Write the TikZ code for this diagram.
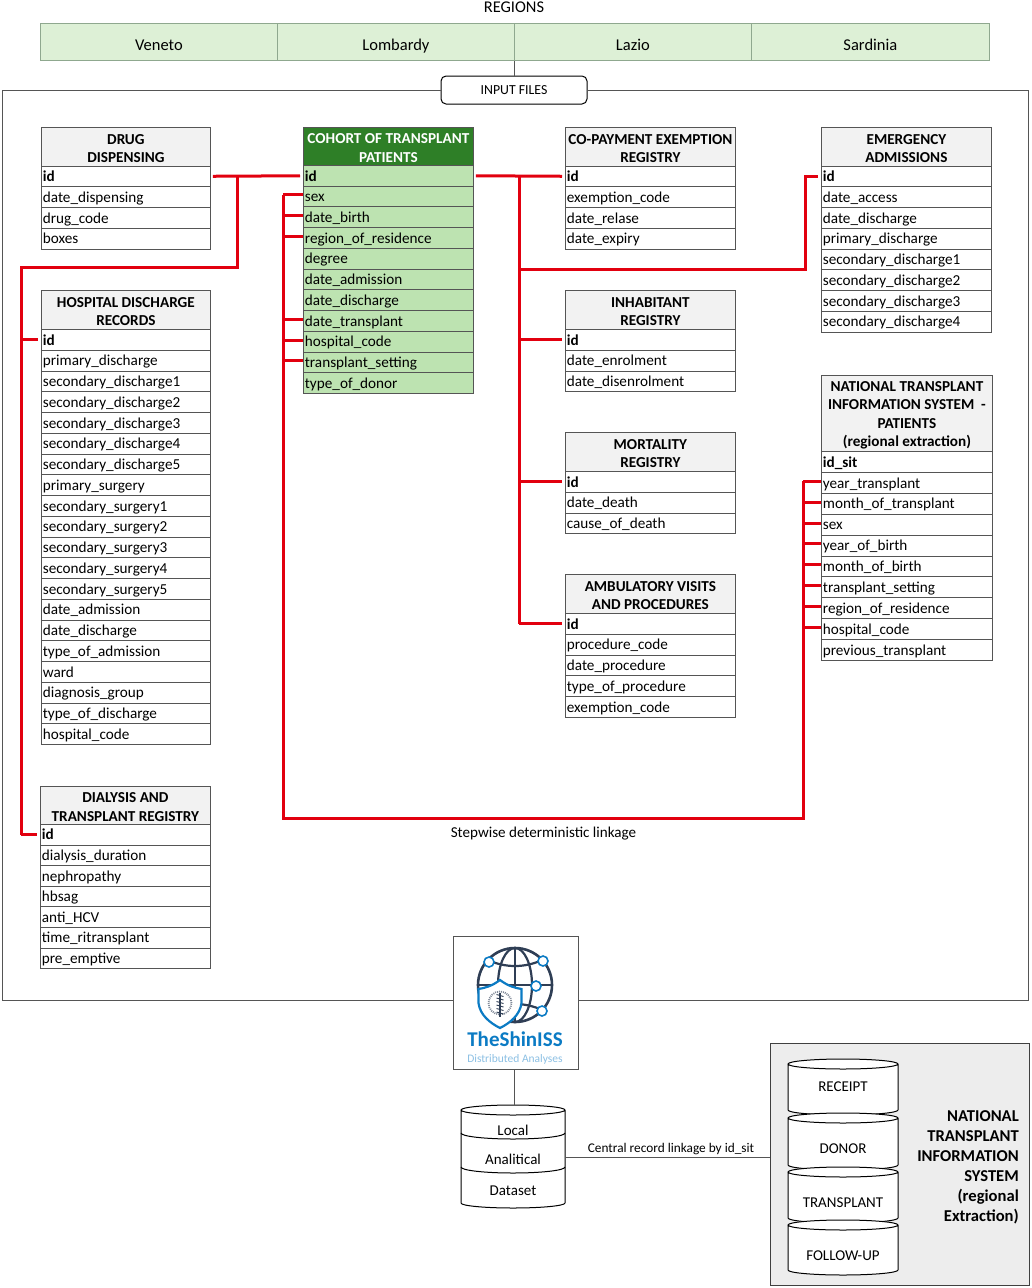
\documentclass[tikz,border=0pt]{standalone}
\usepackage{fontspec}
\setmainfont{Carlito}
\usetikzlibrary{calc}
\definecolor{gridc}{HTML}{555555}
\definecolor{linkred}{HTML}{E2000F}
\definecolor{headgrey}{HTML}{F2F2F2}
\definecolor{cohorthead}{HTML}{2E7F27}
\definecolor{cohortrow}{HTML}{BDE3B1}
\definecolor{regionfill}{HTML}{DDF0D6}
\definecolor{regionline}{HTML}{8FA88F}
\definecolor{panelgrey}{HTML}{EDEDED}
\definecolor{globec}{HTML}{2F3E55}
\definecolor{logoblue}{HTML}{0B7BC4}
\definecolor{logolight}{HTML}{8CC0E4}
\definecolor{thinl}{HTML}{555555}
\newcommand\rowfont{\fontsize{15.2}{18.5}\selectfont}
\tikzset{
  x=1pt,y=-1pt,
  tablerow/.style={draw=gridc,line width=.8pt,anchor=north west,inner sep=0pt,align=left,text height=12pt,text depth=1.5pt,font=\rowfont},
  tablehead/.style={draw=gridc,line width=.8pt,anchor=north west,inner sep=0pt,align=center,fill=headgrey,font=\rowfont\bfseries},
  plainhead/.style={},
  greenhead/.style={fill=cohorthead,text=white},
  plainrow/.style={fill=white},
  greenrow/.style={fill=cohortrow},
  redlink/.style={draw=linkred,line width=3pt},
  thinlink/.style={draw=thinl,line width=.8pt},
  cylshape/.style={draw=black,line width=1pt,fill=white},
  cyltext/.style={font=\fontsize{15}{18}\selectfont,inner sep=0pt},
  regionbox/.style={draw=regionline,line width=.8pt,fill=regionfill,minimum width=237pt,minimum height=37pt,inner sep=0pt,anchor=north west,text height=17pt,text depth=0pt,font=\fontsize{16.5}{20}\selectfont},
}
% name, x, y, width, header height, row height, header, rows, style prefix
\newcommand\dbtable[8]{\dbtablex{#1}{#2}{#3}{#4}{#5}{#6}{#7}{#8}{plain}}
\newcommand\dbtablex[9]{%
  \foreach \t [count=\i] in {#8} {
    \pgfmathsetmacro\ypos{#3+#5+(\i-1)*#6}
    \node[tablerow,#9row,minimum width=#4pt,text width=#4pt-2pt,minimum height=#6pt] (#1-\i) at (#2,\ypos) {\hspace*{.5pt}\t};
  }
  \node[tablehead,#9head,minimum width=#4pt,minimum height=#5pt] (#1-h) at (#2,#3) {\rule{0pt}{13.5pt}#7};
}
% name, x1, x2, ytop, ybot, half height
\newcommand\dbcyl[6]{%
  \pgfmathsetmacro\rx{(#3-#2)/2}
  \pgfmathsetmacro\ya{#4+#6}
  \pgfmathsetmacro\yb{#5-#6}
  \pgfmathsetmacro\ym{(#4+#5)/2}
  \pgfmathsetmacro\xm{(#2+#3)/2}
  \draw[cylshape] (#2,\ya) -- (#2,\yb) arc[start angle=180,end angle=360,x radius=\rx pt,y radius=#6 pt] -- (#3,\ya) arc[start angle=0,end angle=180,x radius=\rx pt,y radius=#6 pt] arc[start angle=180,end angle=360,x radius=\rx pt,y radius=#6 pt];
  \coordinate (#1) at (\xm,\ym);
  \coordinate (#1-e) at (#3,\ym);
  \coordinate (#1-w) at (#2,\ym);
}
\begin{document}
\begin{tikzpicture}
\useasboundingbox (0,0) rectangle (1031,1288);
% regions
\node[font=\fontsize{16.4}{18}\selectfont,inner sep=0pt] (regtitle) at (514,7) {REGIONS};
\node[regionbox] (veneto) at (40,23) {Veneto};
\node[regionbox] (lombardy) at (277,23) {Lombardy};
\node[regionbox] (lazio) at (514,23) {Lazio};
\node[regionbox,minimum width=238pt] (sardinia) at (751,23) {Sardinia};
% frame
\node[draw=black,line width=1pt,rounded corners=5pt,minimum width=146pt,minimum height=28pt,inner sep=0pt,fill=white,font=\fontsize{13.8}{16}\selectfont] (files) at (514,90) {INPUT FILES};
\draw[thinlink] (lombardy.south east) -- (lombardy.south east |- files.north);
\coordinate (fTL) at (2,90); \coordinate (fBL) at (2,1000);
\coordinate (fTR) at (1028,90); \coordinate (fBR) at (1028,1000);
\node[draw=thinl,line width=1pt,fill=white,minimum width=125pt,minimum height=133pt,inner sep=0pt,anchor=north west] (logo) at (452.7,936) {};
\draw[thinlink] (files.west) -- (fTL) -- (fBL) -- (logo.west |- fBL);
\draw[thinlink] (files.east) -- (fTR) -- (fBR) -- (logo.east |- fBR);
% tables
\dbtable{drug}{41}{127}{169}{38.5}{20.75}{DRUG\\DISPENSING}{\textbf{id},date\_dispensing,drug\_code,boxes}
\dbtablex{coh}{303}{127}{170}{38}{20.73}{COHORT OF TRANSPLANT\\PATIENTS}{\textbf{id},sex,date\_birth,region\_of\_residence,degree,date\_admission,date\_discharge,date\_transplant,hospital\_code,transplant\_setting,type\_of\_donor}{green}
\dbtable{copay}{565}{127}{170}{38.5}{20.75}{CO-PAYMENT EXEMPTION\\REGISTRY}{\textbf{id},exemption\_code,date\_relase,date\_expiry}
\dbtable{emerg}{821}{127}{170}{38.5}{20.75}{EMERGENCY\\ADMISSIONS}{\textbf{id},date\_access,date\_discharge,primary\_discharge,secondary\_discharge1,secondary\_discharge2,secondary\_discharge3,secondary\_discharge4}
\dbtable{hosp}{41}{290}{169}{39}{20.75}{HOSPITAL DISCHARGE\\RECORDS}{\textbf{id},primary\_discharge,secondary\_discharge1,secondary\_discharge2,secondary\_discharge3,secondary\_discharge4,secondary\_discharge5,primary\_surgery,secondary\_surgery1,secondary\_surgery2,secondary\_surgery3,secondary\_surgery4,secondary\_surgery5,date\_admission,date\_discharge,type\_of\_admission,ward,diagnosis\_group,type\_of\_discharge,hospital\_code}
\dbtable{inhab}{565}{290}{170}{39}{20.75}{INHABITANT\\REGISTRY}{\textbf{id},date\_enrolment,date\_disenrolment}
\dbtable{mort}{565}{432}{170}{39}{20.75}{MORTALITY\\REGISTRY}{\textbf{id},date\_death,cause\_of\_death}
\dbtable{amb}{565}{574}{170}{39}{20.75}{AMBULATORY VISITS\\AND PROCEDURES}{\textbf{id},procedure\_code,date\_procedure,type\_of\_procedure,exemption\_code}
\dbtable{nat}{821}{375}{171}{76}{20.9}{NATIONAL TRANSPLANT\\INFORMATION SYSTEM\ \ -\\PATIENTS\\(regional extraction)}{\textbf{id\_sit},year\_transplant,month\_of\_transplant,sex,year\_of\_birth,month\_of\_birth,transplant\_setting,region\_of\_residence,hospital\_code,previous\_transplant}
\dbtable{dial}{40}{786}{170}{38}{20.6}{DIALYSIS AND\\TRANSPLANT REGISTRY}{\textbf{id},dialysis\_duration,nephropathy,hbsag,anti\_HCV,time\_ritransplant,pre\_emptive}
% red links: drug / cohort id with left bus
\coordinate (busA) at (237,267);
\coordinate (busB) at (21,267);
\coordinate (busC) at (283,818);
\coordinate (busD) at (803,818);
\coordinate (busE) at (519,176);
\draw[redlink,shorten <=2pt,shorten >=3pt] (drug-1.east) -- (coh-1.west);
\draw[redlink,line join=miter] (busA |- drug-1.east) -- (busA) -- (busB) -- (busB |- dial-1.west);
\draw[redlink,shorten >=3pt] (busB |- hosp-1.west) -- (hosp-1.west);
\draw[redlink,shorten >=3pt] (busB |- dial-1.west) -- (dial-1.west);
% cohort to national bus
\coordinate (natTop) at (busD |- nat-2.west);
\coordinate (cohTop) at ($(busC |- coh-2.west)+(0,-1.5)$);
\draw[redlink,line join=miter] (cohTop) -- (busC) -- (busD) -- ($(natTop)+(0,-1.5)$);
\foreach \r in {2,3,4,8,9,10} {
  \draw[redlink] ($(busC |- coh-\r.west)+(0,-1.5)$) -- ($(coh-\r.west)+(0,-1.5)$);
}
\foreach \r in {2,...,9} {
  \draw[redlink] ($(busD |- nat-\r.west)+(0,-1.5)$) -- ($(nat-\r.west)+(0,-1.5)$);
}
% cohort right bus
\draw[redlink,shorten <=2pt,shorten >=3pt] (coh-1.east) -- (copay-1.west);
\draw[redlink] (busE) -- (busE |- amb-1.west);
\foreach \n in {inhab,mort,amb} {
  \draw[redlink,shorten >=3pt] (busE |- \n-1.west) -- (\n-1.west);
}
\coordinate (emJ) at (805,269);
\draw[redlink,line join=miter] (busE |- emJ) -- (emJ) -- (emJ |- emerg-1.west) -- ($(emerg-1.west)+(-3,0)$);
\node[font=\fontsize{15.1}{18}\selectfont,inner sep=0pt] (stepw) at (543.5,834) {Stepwise deterministic linkage};
% logo
\begin{scope}
  \coordinate (gc) at (515,985);
  \draw[globec,line width=2.6pt] (gc) circle[radius=37pt];
  \draw[globec,line width=2.2pt] (gc) ellipse[x radius=17pt,y radius=37pt];
  \draw[globec,line width=2.2pt] (515,948) -- (515,1022);
  \draw[globec,line width=2.2pt] (478,985) -- (552,985);
  \draw[globec,line width=2.2pt] (488,960) .. controls (505,968) and (525,968) .. (542,960);
  \draw[globec,line width=2.2pt] (488,1010) .. controls (505,1002) and (525,1002) .. (542,1010);
  \foreach \cx/\cy/\cn in {489/962/a,543/961/b,536/986/c,542/1011/d}
    \node[circle,draw=logoblue,fill=white,line width=1.6pt,minimum size=10pt,inner sep=0pt] (hub\cn) at (\cx,\cy) {};
  \draw[logoblue,line width=2.2pt,fill=white] (500,980) .. controls (492,986) and (485,988) .. (478.5,989) -- (478.5,1003) .. controls (480,1015) and (490,1023) .. (500,1028) .. controls (510,1023) and (520,1015) .. (521.5,1003) -- (521.5,989) .. controls (515,988) and (508,986) .. (500,980) -- cycle;
  \draw[globec!60,line width=1.8pt,dash pattern=on 1pt off 1pt] (500,1003) circle[radius=11.5pt];
  \draw[globec,line width=1.2pt] (500,993) -- (500,1017);
  \foreach \k in {0,...,5}
    \draw[globec,line width=.9pt] (496.5,{994.5+3.5*\k}) -- (503.5,{996.5+3.5*\k});
  \node[text=logoblue,font=\fontsize{21}{26}\selectfont\bfseries,inner sep=0pt] (logoname) at (515,1039) {TheShinISS};
  \node[text=logolight,font=\fontsize{11.5}{13}\selectfont,inner sep=0pt] (logosub) at (515,1059) {Distributed Analyses};
\end{scope}
% local cylinder
\dbcyl{localdb}{461}{565}{1105}{1208}{5}
\draw[cylshape,fill=none] (461,1133) arc[start angle=180,end angle=360,x radius=52pt,y radius=6pt];
\draw[cylshape,fill=none] (461,1167) arc[start angle=180,end angle=360,x radius=52pt,y radius=6pt];
\node[cyltext] (loc1) at (513,1130) {Local};
\node[cyltext] (loc2) at (513,1159) {Analitical};
\node[cyltext] (loc3) at (513,1191) {Dataset};
\draw[thinlink] (files.center |- logo.south) -- (files.center |- 0,1105);
% grey panel
\node[draw=black!75,line width=1.2pt,fill=panelgrey,minimum width=259pt,minimum height=242pt,inner sep=0pt,anchor=north west] (panel) at (770,1043) {};
\dbcyl{cyla}{788}{898}{1059}{1115}{5}
\dbcyl{cylb}{788}{898}{1113}{1170}{5}
\dbcyl{cylc}{788}{898}{1167}{1223}{5}
\dbcyl{cyld}{788}{898}{1220}{1275}{5}
\node[cyltext] (cyl1) at (843,1087) {RECEIPT};
\node[cyltext] (cyl2) at (843,1149) {DONOR};
\node[cyltext] (cyl3) at (843,1203) {TRANSPLANT};
\node[cyltext] (cyl4) at (843,1256) {FOLLOW-UP};
\node[anchor=east,align=right,inner sep=0pt,font=\fontsize{16.6}{20}\selectfont\bfseries] (paneltext) at (1019,1167) {NATIONAL\\TRANSPLANT\\INFORMATION\\SYSTEM\\(regional\\Extraction)};
\draw[thinlink] (localdb-e |- 0,1157) -- (panel.west |- 0,1157);
\node[font=\fontsize{13.3}{16}\selectfont,inner sep=0pt] (centrallabel) at (671,1149) {Central record linkage by id\_sit};
\end{tikzpicture}
\end{document}
